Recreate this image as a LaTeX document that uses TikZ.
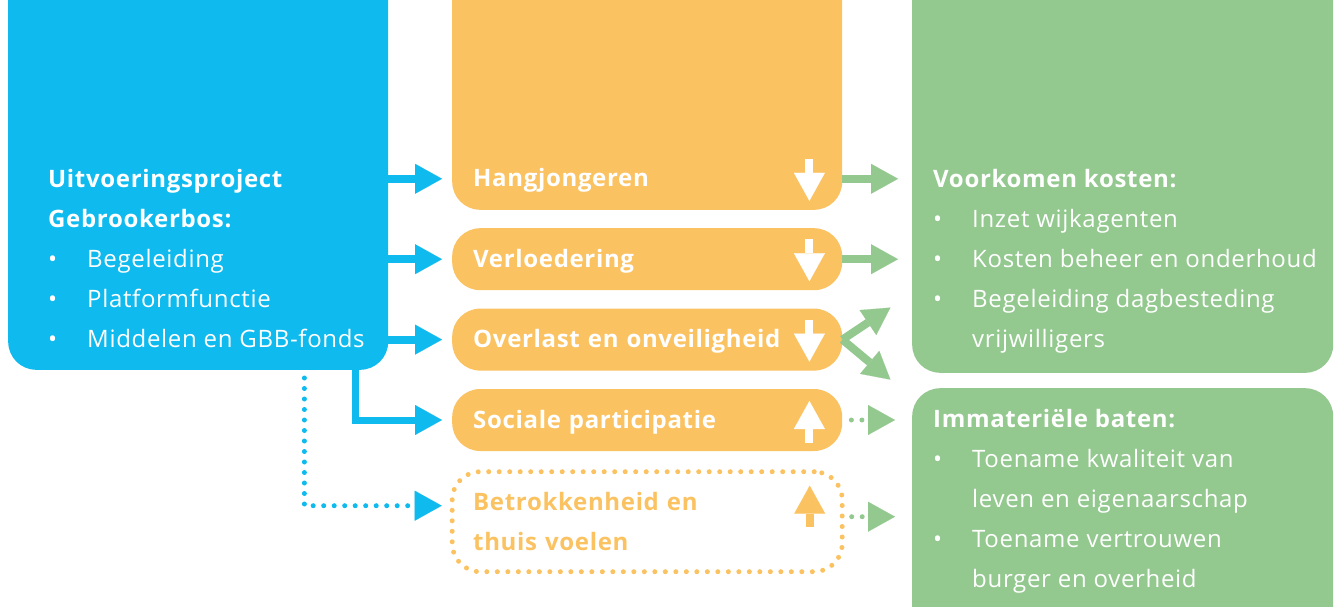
\documentclass[tikz,border=0pt]{standalone}
\usepackage{fontspec}
\setmainfont{Open Sans}[LetterSpace=2.8]
\usetikzlibrary{arrows.meta, positioning, calc}

\definecolor{bleu}{HTML}{0EBAEE}
\definecolor{oranje}{HTML}{FBC262}
\definecolor{groen}{HTML}{93C88F}

\newcommand{\bul}[1]{\makebox[39pt][l]{\textbullet}#1}
\newcommand{\ind}[1]{\hspace*{39pt}#1}

\begin{document}
\begin{tikzpicture}[
    x=1pt, y=-1pt,
    font=\fontsize{24}{40}\selectfont, text=white,
    box/.style={rectangle, inner sep=0pt, rounded corners=28pt},
    tekst/.style={inner sep=0pt, align=left, anchor=north west},
    oranjebasis/.style={box, minimum width=390pt, text width=348pt, align=left,
                        font=\fontsize{24}{40}\selectfont\bfseries},
    oranjebox/.style={oranjebasis, fill=oranje, minimum height=62pt,
                      text height=18pt, text depth=2pt},
    stippel/.style={line width=5pt, dash pattern=on 0pt off 10.5pt, line cap=round},
    stippelbox/.style={oranjebasis, draw=oranje, stippel, text=oranje, minimum height=100pt},
    pijl/.style={line width=8pt, -{Triangle[length=27pt, width=30pt, line width=0.1pt]}},
    pijltje/.style={line width=8pt, -{Triangle[length=28pt, width=31pt, line width=0.1pt]}}
]
    \clip (0,0) rectangle (1336,606);

    % input
    \node[box, fill=bleu, minimum width=380pt, minimum height=420pt, anchor=south west] (project) at (8,370) {};
    \node[tekst] (projecttekst) at (48,159) {\strut\textbf{Uitvoeringsproject}\\\textbf{Gebrookerbos:}\\
        \bul{Begeleiding}\\\bul{Platformfunctie}\\\bul{Middelen en GBB-fonds}};

    % effecten
    \node[oranjebox, text height=227pt, text depth=23pt, anchor=south west] (hang) at (452,210) {Hangjongeren};
    \node[oranjebox, below=18pt of hang] (verl) {Verloedering};
    \node[oranjebox, below=18pt of verl] (over) {Overlast en onveiligheid};
    \node[oranjebox, below=18pt of over] (soc)  {Sociale participatie};
    \node[stippelbox, below=18pt of soc] (betr) {Betrokkenheid en\\thuis voelen};

    % baten
    \node[box, fill=groen, minimum width=421pt, minimum height=420pt, anchor=south west] (kosten) at (912,373) {};
    \node[box, fill=groen, minimum width=421pt, minimum height=260pt, below=15pt of kosten] (baten) {};
    \node[tekst] (kostentekst) at (933,159) {\strut\textbf{Voorkomen kosten:}\\\bul{Inzet wijkagenten}\\
        \bul{Kosten beheer en onderhoud}\\\bul{Begeleiding dagbesteding}\\\ind{vrijwilligers}};
    \node[tekst] (batentekst) at (933,399) {\strut\textbf{Immateriële baten:}\\\bul{Toename kwaliteit van}\\
        \ind{leven en eigenaarschap}\\\bul{Toename vertrouwen}\\\ind{burger en overheid}};

    % pijlen naar effecten
    \foreach \n in {hang, verl, over}
        \draw[pijl, bleu] ([yshift=8pt]project.east |- \n.base) -- ([xshift=-10pt, yshift=8pt]\n.base west);
    \draw[pijl, bleu, line width=7pt] ([xshift=-33pt]project.south east) |- ([xshift=-10pt, yshift=8pt]soc.base west);
    \draw[pijl, bleu, stippel] ([xshift=-84pt, yshift=-8pt]project.south east) |- ([xshift=-8pt, yshift=16pt]betr.west);

    % pijlen naar baten
    \foreach \n in {hang, verl}
        \draw[pijl, groen] ([yshift=8pt]\n.base east) -- ([xshift=-14pt, yshift=8pt]kosten.west |- \n.base);
    \draw[pijl, groen] ([yshift=8pt]over.base east) -- ++(48,-32);
    \draw[pijl, groen] ([yshift=8pt]over.base east) -- ++(48,40);
    \draw[pijl, groen, stippel] ([xshift=9pt, yshift=8pt]soc.base east) -- ([xshift=-17pt, yshift=8pt]baten.west |- soc.base);
    \draw[pijl, groen, stippel] ([xshift=7pt, yshift=5pt]betr.east) -- ([xshift=-17pt, yshift=5pt]baten.west |- betr.east);

    % toename / afname
    \foreach \n in {hang, verl, over}
        \draw[pijltje, white] ([xshift=-33pt, yshift=28pt]\n.base east) -- ([xshift=-33pt, yshift=-14pt]\n.base east);
    \draw[pijltje, white] ([xshift=-33pt, yshift=-15pt]soc.base east) -- ([xshift=-33pt, yshift=27pt]soc.base east);
    \draw[pijltje, oranje] ([xshift=-35pt, yshift=-5pt]betr.east) -- ([xshift=-35pt, yshift=36pt]betr.east);
\end{tikzpicture}
\end{document}
